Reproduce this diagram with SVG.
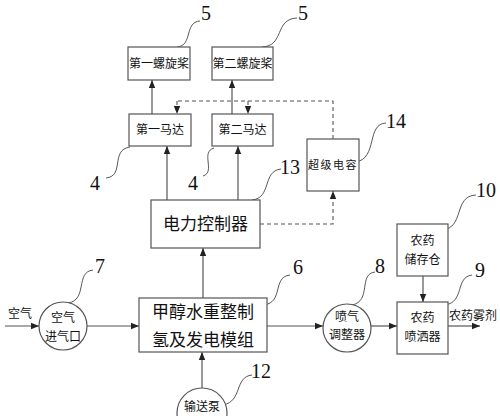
<svg xmlns="http://www.w3.org/2000/svg" width="500" height="416" viewBox="0 0 500 416">
<defs>
<style>
.box{fill:#fff;stroke:#555;stroke-width:1.2}
.ln{fill:none;stroke:#555;stroke-width:1.2}
.dash{fill:none;stroke:#555;stroke-width:1.1;stroke-dasharray:4,3}
.lead{fill:none;stroke:#444;stroke-width:0.9}
.t{font-family:"Noto Sans CJK SC","Noto Sans",sans-serif;fill:#111;text-anchor:middle}
.n{font-family:"Liberation Serif",serif;font-size:20px;fill:#111;text-anchor:middle}
</style>
<marker id="ar" viewBox="0 0 10 10" refX="10" refY="5" markerWidth="8" markerHeight="8" markerUnits="userSpaceOnUse" orient="auto">
<path d="M0,1 L10,5 L0,9 Z" fill="#222"/>
</marker>
</defs>
<rect width="500" height="416" fill="#fff"/>

<g id="connectors">
<line class="ln" x1="152" y1="114" x2="152" y2="80" marker-end="url(#ar)"/>
<line class="ln" x1="232" y1="114" x2="232" y2="80" marker-end="url(#ar)"/>
<line class="ln" x1="167" y1="200" x2="167" y2="146" marker-end="url(#ar)"/>
<line class="ln" x1="238" y1="200" x2="238" y2="146" marker-end="url(#ar)"/>
<polyline class="dash" points="333,139 333,101 177,101"/>
<line class="dash" x1="177" y1="101" x2="177" y2="114" marker-end="url(#ar)"/>
<line class="dash" x1="248" y1="101" x2="248" y2="114" marker-end="url(#ar)"/>
<polyline class="dash" points="260,224 333,224 333,191" marker-end="url(#ar)"/>
<line class="ln" x1="203" y1="298" x2="203" y2="248" marker-end="url(#ar)"/>
<line class="ln" x1="202" y1="388" x2="202" y2="352" marker-end="url(#ar)"/>
<line class="ln" x1="5" y1="326" x2="39" y2="326" marker-end="url(#ar)"/>
<line class="ln" x1="87" y1="326" x2="139" y2="326" marker-end="url(#ar)"/>
<line class="dash" x1="139" y1="326" x2="267" y2="326"/>
<line class="ln" x1="267" y1="326" x2="323" y2="326" marker-end="url(#ar)"/>
<line class="ln" x1="371" y1="326" x2="397" y2="326" marker-end="url(#ar)"/>
<line class="ln" x1="423" y1="276" x2="423" y2="302" marker-end="url(#ar)"/>
<line class="ln" x1="448" y1="326" x2="480" y2="326" marker-end="url(#ar)"/>
</g>

<g id="leaders">
<path class="lead" d="M177,47 C193,46 184,22 200,21"/>
<path class="lead" d="M262,47 C285,46 274,19 297,18"/>
<path class="lead" d="M356,162 C378,158 366,124 386,123"/>
<path class="lead" d="M252,200 C272,198 262,171 281,169"/>
<path class="lead" d="M130,147 C110,150 125,176 106,178"/>
<path class="lead" d="M214,148 C200,152 216,172 203,176"/>
<path class="lead" d="M68,303 C88,300 75,272 93,270"/>
<path class="lead" d="M264,305 C284,302 272,277 290,275"/>
<path class="lead" d="M352,305 C372,301 358,274 375,272"/>
<path class="lead" d="M223,405 C243,401 234,377 252,375"/>
<path class="lead" d="M442,230 C465,228 453,196 476,195"/>
<path class="lead" d="M445,305 C465,302 455,277 472,275"/>
</g>

<g id="propeller1"><rect class="box" x="128" y="47" width="62" height="33"/><text class="t" x="159" y="68" font-size="12">第一螺旋桨</text></g>
<g id="propeller2"><rect class="box" x="212" y="47" width="61" height="33"/><text class="t" x="242.5" y="68" font-size="12">第二螺旋桨</text></g>
<g id="motor1"><rect class="box" x="129" y="114" width="62" height="32"/><text class="t" x="160" y="134" font-size="12">第一马达</text></g>
<g id="motor2"><rect class="box" x="212" y="114" width="61" height="32"/><text class="t" x="242.5" y="134" font-size="12">第二马达</text></g>
<g id="supercap"><rect class="box" x="307" y="139" width="52" height="52"/><text class="t" x="333" y="169" font-size="11" letter-spacing="1.5">超级电容</text></g>
<g id="controller"><rect class="box" x="151" y="200" width="109" height="48"/><text class="t" x="205.5" y="230" font-size="17">电力控制器</text></g>
<g id="airinlet"><circle class="box" cx="63" cy="326" r="24"/><text class="t" x="63" y="322" font-size="12">空气</text><text class="t" x="63" y="341" font-size="12">进气口</text></g>
<text class="t" x="20" y="318" font-size="12">空气</text>
<g id="module"><rect class="box" x="139" y="298" width="128" height="54"/><text class="t" x="203" y="318" font-size="17">甲醇水重整制</text><text class="t" x="203" y="346" font-size="17">氢及发电模组</text></g>
<g id="pump"><circle class="box" cx="202" cy="413" r="25"/><text class="t" x="202" y="411" font-size="12">输送泵</text></g>
<g id="adjuster"><circle class="box" cx="347" cy="328" r="24"/><text class="t" x="347" y="321" font-size="12">喷气</text><text class="t" x="347" y="339" font-size="12">调整器</text></g>
<g id="storage"><rect class="box" x="397" y="224" width="51" height="52"/><text class="t" x="422.5" y="245" font-size="12">农药</text><text class="t" x="422.5" y="264" font-size="12">储存仓</text></g>
<g id="sprayer"><rect class="box" x="397" y="302" width="51" height="52"/><text class="t" x="422.5" y="322" font-size="12">农药</text><text class="t" x="422.5" y="341" font-size="12">喷洒器</text></g>
<text class="t" x="473" y="320" font-size="12">农药雾剂</text>

<g id="labels">
<text class="n" x="206" y="20">5</text>
<text class="n" x="303" y="20">5</text>
<text class="n" x="396" y="128">14</text>
<text class="n" x="290" y="174">13</text>
<text class="n" x="95" y="190">4</text>
<text class="n" x="193" y="190">4</text>
<text class="n" x="100" y="273">7</text>
<text class="n" x="298" y="274">6</text>
<text class="n" x="380" y="273">8</text>
<text class="n" x="261" y="378">12</text>
<text class="n" x="486" y="197">10</text>
<text class="n" x="480" y="277">9</text>
</g>
</svg>
